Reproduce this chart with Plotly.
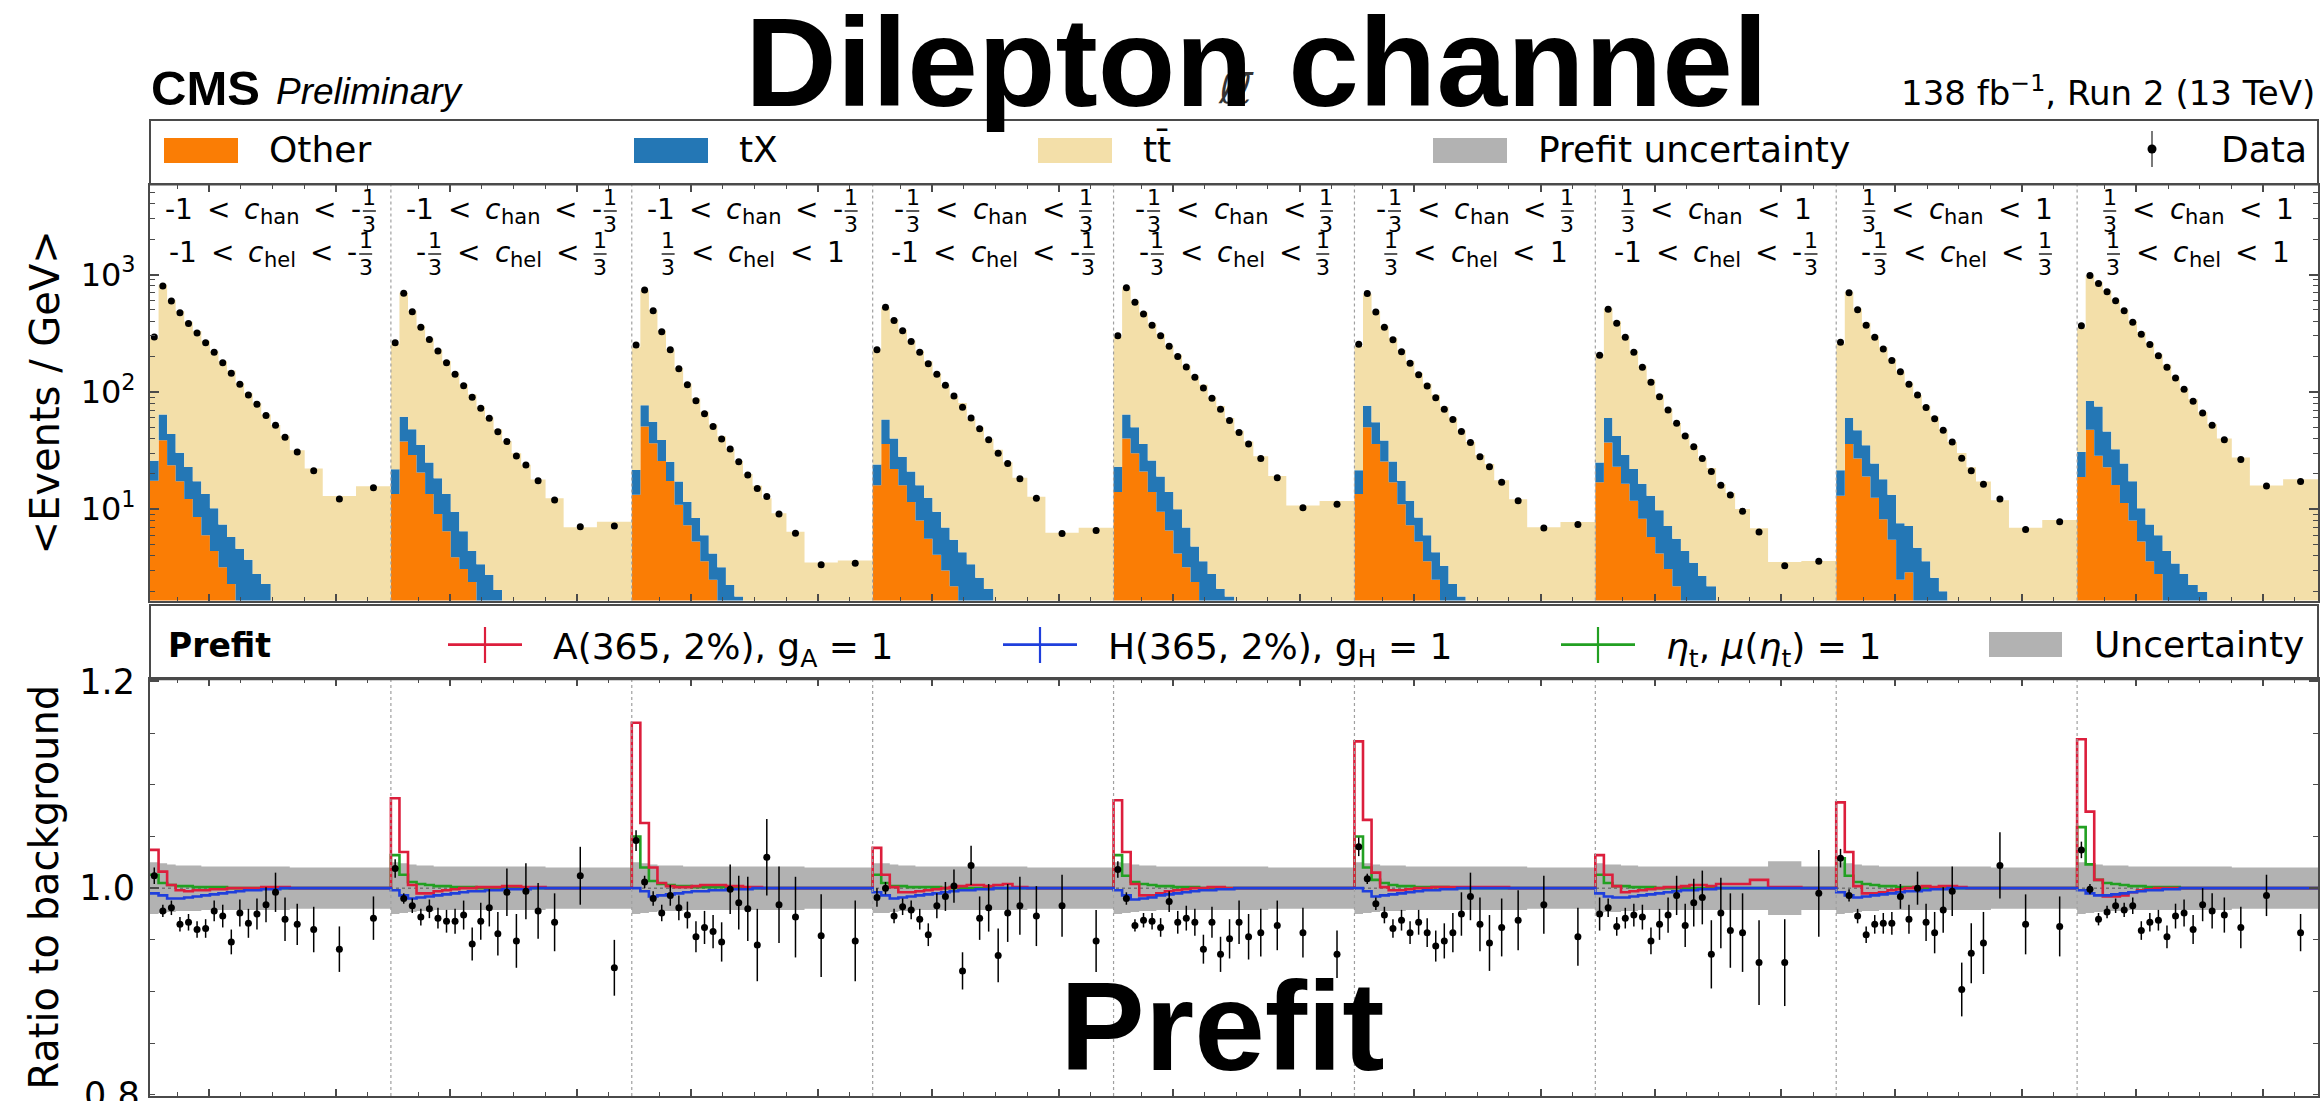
import plotly.graph_objects as go

# ---------------------------------------------------------------- canvas
W, H = 2320, 1101
ML, MR, MT, MB = 150, 2, 118, 5
PW, PH = W - ML - MR, H - MT - MB


def px(x):
    return (x - ML) / PW


def py(y):
    return (H - MB - y) / PH


# ---------------------------------------------------------------- data
MTT_EDGES = [320, 347, 374, 401, 428, 455, 482, 509, 536, 563, 590, 617, 644,
             671, 701, 731, 761, 808, 865, 970, 1080]

CHAN_RANGES = [("-1", "-1/3"), ("-1", "-1/3"), ("-1", "-1/3"),
               ("-1/3", "1/3"), ("-1/3", "1/3"), ("-1/3", "1/3"),
               ("1/3", "1"), ("1/3", "1"), ("1/3", "1")]
CHEL_RANGES = [("-1", "-1/3"), ("-1/3", "1/3"), ("1/3", "1"),
               ("-1", "-1/3"), ("-1/3", "1/3"), ("1/3", "1"),
               ("-1", "-1/3"), ("-1/3", "1/3"), ("1/3", "1")]

# observed events / GeV
obs_events = [
    [293, 800, 595, 472, 383, 317, 262, 218, 177, 144, 116, 94, 78.5, 63, 52, 41, 30.7, 21.3, 12.2, 15.2],
    [262, 692, 482, 355, 280, 223, 177, 141, 113, 90, 72.5, 59.6, 45.8, 37.7, 28.4, 23.8, 17.5, 12.0, 7.1, 7.2],
    [251, 738, 492, 326, 228, 157, 115, 84, 65, 50.6, 39.7, 32.6, 25.4, 19.6, 15.0, 12.8, 9.1, 6.25, 3.36, 3.47],
    [228, 525, 405, 332, 268, 217, 174, 141, 114, 92, 74, 60, 48.5, 39, 30, 24.5, 18.2, 12.4, 6.2, 6.6],
    [300, 770, 580, 460, 370, 300, 245, 200, 163, 133, 108, 88, 71, 57, 45, 36, 27, 18.5, 10.3, 11.0],
    [255, 690, 480, 355, 278, 220, 175, 140, 112, 89, 71, 58, 46, 37, 28, 23, 17, 11.8, 6.9, 7.4],
    [205, 505, 385, 292, 218, 162, 121, 91, 70, 54, 42, 34, 27, 21, 16, 13.2, 9.6, 6.4, 3.3, 3.6],
    [265, 700, 500, 370, 292, 232, 185, 148, 116, 94, 73.6, 58.9, 47, 37.3, 27.2, 21.3, 16.3, 12.2, 6.7, 7.8],
    [365, 980, 838, 713, 598, 491, 392, 310, 253, 203, 162, 131, 105, 83, 66, 52, 39, 26.5, 15.8, 17.2],
]

# "Other" background events / GeV
other_events = [
    [17.5, 38.6, 23.7, 17.3, 12.2, 8.6, 6.0, 4.4, 3.2, 2.3, 1.5, 1.1, 0.8, 0.6, 0.4, 0.3, 0.2, 0.15, 0.1, 0.1],
    [13.5, 37.7, 29, 20.5, 13.5, 9.1, 6.5, 3.9, 3.1, 2.4, 1.5, 1.1, 0.8, 0.6, 0.4, 0.3, 0.2, 0.15, 0.1, 0.1],
    [13.3, 50.6, 36.5, 25.8, 17.4, 10.9, 7.3, 5.3, 3.6, 2.5, 1.5, 1.0, 0.7, 0.5, 0.35, 0.25, 0.15, 0.1, 0.06, 0.06],
    [16, 36, 22, 16, 11.5, 8, 5.6, 4.1, 3.0, 2.2, 1.4, 1.0, 0.7, 0.5, 0.35, 0.25, 0.2, 0.12, 0.08, 0.08],
    [14, 40, 30, 21, 14, 9.5, 6.6, 4.2, 3.2, 2.4, 1.5, 1.1, 0.8, 0.6, 0.4, 0.3, 0.2, 0.15, 0.1, 0.1],
    [13.5, 50, 36, 25.5, 17, 11, 7.3, 5.3, 3.6, 2.5, 1.5, 1.0, 0.7, 0.5, 0.35, 0.25, 0.15, 0.1, 0.06, 0.06],
    [17, 37, 23, 16.5, 11.8, 8.3, 5.8, 4.2, 3.1, 2.2, 1.4, 1.0, 0.7, 0.5, 0.35, 0.25, 0.2, 0.12, 0.08, 0.08],
    [13, 36, 27, 19, 12.5, 8.2, 5.5, 2.5, 2.9, 1.5, 1.1, 0.8, 0.6, 0.45, 0.3, 0.2, 0.15, 0.1, 0.08, 0.08],
    [18.8, 47.6, 28.6, 22.8, 16.1, 11.3, 8.0, 5.3, 3.6, 2.8, 1.6, 1.1, 0.8, 0.6, 0.4, 0.3, 0.2, 0.15, 0.1, 0.1],
]

# tX background events / GeV
tx_events = [
    [8.4, 25.4, 20.1, 12.9, 10.7, 8.7, 7.5, 5.8, 4.2, 3.5, 3.1, 2.6, 2.0, 1.7, 1.1, 0.8, 0.6, 0.35, 0.2, 0.2],
    [8.4, 23.8, 19, 14.8, 11.5, 9.3, 7.0, 5.6, 3.4, 2.0, 1.9, 1.66, 1.25, 0.9, 0.6, 0.4, 0.3, 0.2, 0.15, 0.1],
    [8.3, 26.4, 19.2, 13.1, 8.0, 6.3, 4.3, 3.1, 2.4, 1.7, 1.7, 1.26, 1.1, 0.7, 0.5, 0.35, 0.2, 0.15, 0.08, 0.08],
    [8, 22, 18, 12, 9.5, 8, 6.9, 5.4, 4.0, 3.3, 2.9, 2.4, 1.9, 1.6, 1.0, 0.7, 0.5, 0.3, 0.2, 0.2],
    [9, 24, 20, 15, 12, 9.5, 7.4, 5.8, 3.8, 2.4, 2.1, 1.7, 1.3, 1.2, 0.7, 0.5, 0.35, 0.25, 0.15, 0.15],
    [8, 26, 19, 13, 8.5, 6.5, 4.5, 3.2, 2.4, 1.8, 1.8, 1.3, 1.1, 0.7, 0.5, 0.35, 0.2, 0.15, 0.08, 0.08],
    [8, 23, 19, 12.5, 10.2, 8.2, 7.2, 5.6, 4.1, 3.4, 3.0, 2.5, 2.0, 1.7, 1.1, 0.8, 0.5, 0.3, 0.2, 0.2],
    [8.5, 24, 20, 16, 12, 9.8, 7.8, 5.1, 4.3, 3.2, 2.5, 1.8, 1.4, 1.05, 0.7, 0.5, 0.35, 0.2, 0.15, 0.15],
    [11.9, 36, 46.6, 23.2, 16.3, 13.2, 9.3, 4.9, 3.8, 3.2, 2.8, 2.35, 2.0, 1.66, 1.57, 1.0, 0.6, 0.4, 0.25, 0.25],
]

# data / background
obs_ratio = [
    [1.012, 0.978, 0.981, 0.965, 0.967, 0.960, 0.961, 0.978, 0.973, 0.948, 0.976, 0.966, 0.975, 0.984, 0.996, 0.970, 0.965, 0.960, 0.941, 0.971],
    [1.019, 0.990, 0.983, 0.972, 0.980, 0.971, 0.968, 0.968, 0.974, 0.946, 0.968, 0.981, 0.956, 0.996, 0.949, 0.997, 0.978, 0.967, 1.012, 0.923],
    [1.046, 1.006, 0.990, 0.976, 0.993, 0.981, 0.974, 0.953, 0.962, 0.958, 0.948, 0.999, 0.986, 0.980, 0.945, 1.030, 0.984, 0.972, 0.954, 0.949],
    [0.991, 1.000, 0.973, 0.982, 0.979, 0.970, 0.955, 0.983, 0.992, 1.002, 0.920, 1.022, 0.971, 0.981, 0.935, 0.976, 0.983, 0.973, 0.983, 0.949],
    [1.018, 0.990, 0.964, 0.969, 0.968, 0.962, 0.987, 0.967, 0.971, 0.967, 0.941, 0.967, 0.936, 0.951, 0.967, 0.953, 0.957, 0.964, 0.957, 0.936],
    [1.040, 1.009, 0.985, 0.974, 0.961, 0.969, 0.957, 0.967, 0.957, 0.944, 0.949, 0.957, 0.975, 0.992, 0.965, 0.947, 0.962, 0.969, 0.984, 0.953],
    [0.975, 0.981, 0.963, 0.971, 0.974, 0.972, 0.949, 0.965, 0.974, 0.993, 0.964, 0.986, 0.991, 0.936, 0.976, 0.959, 0.957, 0.928, 0.928, 0.995],
    [1.029, 0.993, 0.973, 0.955, 0.965, 0.966, 0.966, 0.992, 0.970, 1.000, 0.967, 0.957, 0.979, 0.997, 0.902, 0.937, 0.947, 1.022, 0.965, 0.963],
    [1.037, 0.999, 0.970, 0.977, 0.983, 0.979, 0.983, 0.959, 0.967, 0.969, 0.953, 0.973, 0.976, 0.960, 0.984, 0.978, 0.974, 0.962, 0.993, 0.957],
]

# statistical uncertainty on the data / background ratio
obs_ratio_err = [
    [0.008, 0.006, 0.007, 0.007, 0.008, 0.008, 0.009, 0.010, 0.011, 0.012, 0.013, 0.014, 0.015, 0.017, 0.019, 0.021, 0.020, 0.022, 0.022, 0.021],
    [0.009, 0.005, 0.007, 0.008, 0.009, 0.010, 0.011, 0.012, 0.014, 0.016, 0.018, 0.018, 0.021, 0.023, 0.026, 0.027, 0.027, 0.028, 0.028, 0.027],
    [0.010, 0.006, 0.007, 0.008, 0.010, 0.012, 0.013, 0.015, 0.016, 0.016, 0.019, 0.024, 0.026, 0.031, 0.035, 0.037, 0.037, 0.039, 0.040, 0.039],
    [0.009, 0.006, 0.007, 0.008, 0.009, 0.010, 0.011, 0.012, 0.014, 0.016, 0.018, 0.019, 0.021, 0.023, 0.026, 0.028, 0.028, 0.029, 0.030, 0.030],
    [0.008, 0.006, 0.006, 0.007, 0.008, 0.009, 0.010, 0.011, 0.012, 0.013, 0.014, 0.015, 0.017, 0.019, 0.021, 0.022, 0.023, 0.024, 0.024, 0.023],
    [0.009, 0.005, 0.006, 0.008, 0.009, 0.010, 0.011, 0.012, 0.014, 0.015, 0.017, 0.019, 0.021, 0.023, 0.026, 0.027, 0.028, 0.029, 0.028, 0.028],
    [0.016, 0.009, 0.009, 0.010, 0.011, 0.012, 0.013, 0.015, 0.017, 0.019, 0.021, 0.023, 0.026, 0.033, 0.034, 0.036, 0.038, 0.041, 0.042, 0.042],
    [0.009, 0.006, 0.007, 0.008, 0.009, 0.010, 0.011, 0.012, 0.014, 0.016, 0.018, 0.020, 0.022, 0.024, 0.026, 0.029, 0.030, 0.032, 0.029, 0.029],
    [0.008, 0.005, 0.006, 0.006, 0.007, 0.007, 0.008, 0.009, 0.009, 0.010, 0.011, 0.012, 0.013, 0.014, 0.016, 0.017, 0.017, 0.020, 0.020, 0.018],
]

# prefit background uncertainty (half width of the band, relative)
bkg_unc = [
    [0.025, 0.024, 0.023, 0.022, 0.022, 0.022, 0.021, 0.021, 0.021, 0.021, 0.021, 0.021, 0.021, 0.021, 0.021, 0.021, 0.020, 0.020, 0.020, 0.020],
    [0.025, 0.024, 0.023, 0.022, 0.022, 0.021, 0.021, 0.021, 0.021, 0.021, 0.021, 0.021, 0.021, 0.021, 0.021, 0.021, 0.021, 0.020, 0.020, 0.020],
    [0.025, 0.024, 0.023, 0.022, 0.022, 0.022, 0.021, 0.021, 0.021, 0.021, 0.021, 0.021, 0.021, 0.021, 0.021, 0.021, 0.021, 0.021, 0.020, 0.020],
    [0.024, 0.024, 0.023, 0.022, 0.022, 0.021, 0.021, 0.021, 0.021, 0.021, 0.021, 0.021, 0.021, 0.021, 0.021, 0.021, 0.021, 0.020, 0.020, 0.020],
    [0.025, 0.024, 0.023, 0.022, 0.022, 0.021, 0.021, 0.021, 0.021, 0.021, 0.021, 0.021, 0.021, 0.021, 0.021, 0.021, 0.021, 0.020, 0.020, 0.020],
    [0.025, 0.024, 0.023, 0.022, 0.022, 0.022, 0.021, 0.021, 0.021, 0.021, 0.021, 0.021, 0.021, 0.021, 0.021, 0.021, 0.021, 0.021, 0.020, 0.020],
    [0.024, 0.023, 0.023, 0.022, 0.022, 0.021, 0.021, 0.021, 0.021, 0.021, 0.021, 0.021, 0.021, 0.021, 0.021, 0.021, 0.021, 0.021, 0.026, 0.021],
    [0.025, 0.024, 0.023, 0.022, 0.022, 0.021, 0.021, 0.021, 0.021, 0.021, 0.021, 0.021, 0.021, 0.021, 0.021, 0.021, 0.021, 0.020, 0.020, 0.020],
    [0.025, 0.024, 0.023, 0.022, 0.022, 0.022, 0.021, 0.021, 0.021, 0.021, 0.021, 0.021, 0.021, 0.021, 0.021, 0.021, 0.021, 0.020, 0.020, 0.020],
]

# signal + background over background
a_ratio = [
    [1.037, 1.016, 1.003, 0.998, 0.997, 0.998, 0.998, 0.999, 0.999, 1.000, 1.000, 1.000, 1.000, 1.001, 1.001, 1.001, 1.000, 1.000, 1.000, 1.000],
    [1.087, 1.035, 1.003, 0.995, 0.995, 0.997, 0.998, 0.999, 1.000, 1.000, 1.001, 1.001, 1.001, 1.002, 1.002, 1.001, 1.001, 1.000, 1.000, 1.000],
    [1.160, 1.063, 1.020, 1.005, 1.002, 1.001, 1.001, 1.002, 1.003, 1.003, 1.003, 1.002, 1.002, 1.001, 1.001, 1.000, 1.000, 1.000, 1.000, 1.000],
    [1.039, 1.013, 1.001, 0.996, 0.996, 0.997, 0.998, 0.999, 1.000, 1.001, 1.002, 1.003, 1.003, 1.002, 1.003, 1.004, 1.001, 1.000, 1.000, 1.000],
    [1.085, 1.035, 1.004, 0.993, 0.993, 0.995, 0.997, 0.998, 0.999, 1.000, 1.000, 1.001, 1.001, 1.000, 1.000, 1.000, 1.000, 1.000, 1.000, 1.000],
    [1.142, 1.066, 1.015, 1.001, 0.998, 0.998, 0.999, 1.000, 1.000, 1.001, 1.001, 1.001, 1.001, 1.001, 1.001, 1.001, 1.001, 1.000, 1.000, 1.000],
    [1.032, 1.013, 1.002, 0.996, 0.997, 0.998, 0.999, 1.000, 1.001, 1.001, 1.002, 1.003, 1.003, 1.002, 1.004, 1.004, 1.004, 1.008, 1.001, 1.000],
    [1.083, 1.035, 1.002, 0.995, 0.995, 0.996, 0.998, 0.999, 1.000, 1.001, 1.002, 1.001, 1.002, 1.002, 1.001, 1.000, 1.000, 1.000, 1.000, 1.000],
    [1.144, 1.074, 1.008, 0.992, 0.992, 0.993, 0.996, 0.998, 0.999, 1.000, 1.000, 1.000, 1.000, 1.000, 1.000, 1.000, 1.000, 1.000, 1.000, 1.000],
]
h_ratio = [
    [0.995, 0.993, 0.990, 0.990, 0.991, 0.992, 0.993, 0.994, 0.995, 0.996, 0.997, 0.998, 0.998, 0.999, 0.999, 1.000, 1.000, 1.000, 1.000, 1.000],
    [0.998, 0.993, 0.990, 0.991, 0.992, 0.993, 0.994, 0.995, 0.996, 0.997, 0.997, 0.998, 0.998, 0.999, 0.999, 0.999, 1.000, 1.000, 1.000, 1.000],
    [1.000, 0.997, 0.992, 0.993, 0.994, 0.995, 0.996, 0.997, 0.997, 0.998, 0.998, 0.999, 0.999, 0.999, 1.000, 1.000, 1.000, 1.000, 1.000, 1.000],
    [0.996, 0.993, 0.990, 0.991, 0.992, 0.993, 0.994, 0.995, 0.996, 0.997, 0.998, 0.998, 0.999, 0.999, 1.000, 1.000, 1.000, 1.000, 1.000, 1.000],
    [0.998, 0.993, 0.989, 0.990, 0.991, 0.993, 0.994, 0.995, 0.996, 0.997, 0.998, 0.998, 0.999, 0.999, 1.000, 1.000, 1.000, 1.000, 1.000, 1.000],
    [1.000, 0.997, 0.992, 0.993, 0.994, 0.995, 0.996, 0.997, 0.998, 0.998, 0.999, 0.999, 1.000, 1.000, 1.000, 1.000, 1.000, 1.000, 1.000, 1.000],
    [0.995, 0.992, 0.991, 0.991, 0.992, 0.993, 0.994, 0.995, 0.996, 0.997, 0.998, 0.998, 0.999, 0.999, 1.000, 1.000, 1.000, 1.000, 1.000, 1.000],
    [0.996, 0.993, 0.991, 0.992, 0.993, 0.994, 0.995, 0.996, 0.997, 0.997, 0.998, 0.999, 0.999, 1.000, 1.000, 1.000, 1.000, 1.000, 1.000, 1.000],
    [0.998, 0.995, 0.993, 0.993, 0.994, 0.995, 0.996, 0.997, 0.998, 0.998, 0.999, 0.999, 1.000, 1.000, 1.000, 1.000, 1.000, 1.000, 1.000, 1.000],
]
eta_ratio = [
    [1.013, 1.005, 1.003, 1.002, 1.002, 1.001, 1.001, 1.001, 1.001, 1.000, 1.000, 1.000, 1.000, 1.000, 1.000, 1.000, 1.000, 1.000, 1.000, 1.000],
    [1.032, 1.013, 1.006, 1.004, 1.003, 1.002, 1.002, 1.001, 1.001, 1.001, 1.000, 1.000, 1.000, 1.000, 1.000, 1.000, 1.000, 1.000, 1.000, 1.000],
    [1.050, 1.020, 1.007, 1.004, 1.003, 1.002, 1.002, 1.001, 1.001, 1.001, 1.001, 1.000, 1.000, 1.000, 1.000, 1.000, 1.000, 1.000, 1.000, 1.000],
    [1.013, 1.005, 1.002, 1.002, 1.001, 1.001, 1.001, 1.001, 1.000, 1.000, 1.000, 1.000, 1.000, 1.000, 1.000, 1.000, 1.000, 1.000, 1.000, 1.000],
    [1.032, 1.012, 1.006, 1.004, 1.003, 1.002, 1.002, 1.001, 1.001, 1.001, 1.000, 1.000, 1.000, 1.000, 1.000, 1.000, 1.000, 1.000, 1.000, 1.000],
    [1.050, 1.020, 1.008, 1.005, 1.003, 1.002, 1.002, 1.001, 1.001, 1.001, 1.001, 1.000, 1.000, 1.000, 1.000, 1.000, 1.000, 1.000, 1.000, 1.000],
    [1.013, 1.005, 1.002, 1.002, 1.001, 1.001, 1.001, 1.000, 1.000, 1.000, 1.000, 1.000, 1.000, 1.000, 1.000, 1.000, 1.000, 1.000, 1.000, 1.000],
    [1.029, 1.012, 1.006, 1.004, 1.003, 1.002, 1.002, 1.001, 1.001, 1.001, 1.000, 1.000, 1.000, 1.000, 1.000, 1.000, 1.000, 1.000, 1.000, 1.000],
    [1.059, 1.023, 1.008, 1.005, 1.004, 1.003, 1.002, 1.002, 1.001, 1.001, 1.001, 1.001, 1.000, 1.000, 1.000, 1.000, 1.000, 1.000, 1.000, 1.000],
]

# ---------------------------------------------------------------- style
C_OTHER = "#fa7d05"
C_TX = "#2477b5"
C_TT = "#f3dfa9"
C_UNC = "#b2b2b2"
C_A = "#dc1e3c"
C_H = "#1f3fdc"
C_ETA = "#22a022"
C_FRAME = "#4a4a4a"

N_PANELS = len(obs_events)
SPAN = MTT_EDGES[-1] - MTT_EDGES[0]
X_MAX = N_PANELS * SPAN
MAJOR_OFFSETS = [187, 587]
MINOR_OFFSETS = [87, 287, 387, 487, 687]

Y_UP_TOP, Y_UP_BOT = 184.5, 600.5
Y_RLEG_TOP = 605.0
Y_RA_TOP, Y_RA_BOT = 679.3, 1096.0
Y_LEG_TOP = 120.0
RATIO_RANGE = [0.799, 1.202]


def flat(nested):
    return [v for panel in nested for v in panel]


x_edges = [p * SPAN + (e - MTT_EDGES[0]) for p in range(N_PANELS) for e in MTT_EDGES[:-1]]
x_edges.append(X_MAX)
x_centers = [p * SPAN + 0.5 * (lo + hi) - MTT_EDGES[0]
             for p in range(N_PANELS) for lo, hi in zip(MTT_EDGES[:-1], MTT_EDGES[1:])]


def step(vals):
    vals = list(vals)
    return x_edges, vals + [vals[-1]]


obs = flat(obs_events)
rat = flat(obs_ratio)
other = flat(other_events)
tx = flat(tx_events)
bkg_total = [o / r for o, r in zip(obs, rat)]
stack_other = other
stack_tx = [a + b for a, b in zip(other, tx)]

fig = go.Figure()

# ---------------------------------------------------------------- upper panel: stacked backgrounds
fig.add_trace(go.Scatter(x=[0, X_MAX], y=[0.01, 0.01], mode="lines", line=dict(width=0),
                         hoverinfo="skip", showlegend=False, xaxis="x", yaxis="y"))
for cum, col in [(stack_other, C_OTHER), (stack_tx, C_TX), (bkg_total, C_TT)]:
    sx, sy = step(cum)
    fig.add_trace(go.Scatter(x=sx, y=sy, mode="lines", line=dict(width=0, shape="hv", color=col),
                             fill="tonexty", fillcolor=col, hoverinfo="skip", showlegend=False,
                             xaxis="x", yaxis="y"))
fig.add_trace(go.Scatter(x=x_centers, y=obs, mode="markers",
                         marker=dict(color="black", size=7), showlegend=False,
                         xaxis="x", yaxis="y"))

# ---------------------------------------------------------------- ratio panel
unc = flat(bkg_unc)
sx, lo_y = step([1 - u for u in unc])
_, hi_y = step([1 + u for u in unc])
fig.add_trace(go.Scatter(x=sx, y=lo_y, mode="lines", line=dict(width=0, shape="hv"),
                         hoverinfo="skip", showlegend=False, xaxis="x2", yaxis="y2"))
fig.add_trace(go.Scatter(x=sx, y=hi_y, mode="lines", line=dict(width=0, shape="hv"),
                         fill="tonexty", fillcolor=C_UNC, hoverinfo="skip", showlegend=False,
                         xaxis="x2", yaxis="y2"))
fig.add_trace(go.Scatter(x=[0, X_MAX], y=[1, 1], mode="lines",
                         line=dict(color="#555555", width=1, dash="dot"),
                         hoverinfo="skip", showlegend=False, xaxis="x2", yaxis="y2"))
for series, col in [(eta_ratio, C_ETA), (a_ratio, C_A), (h_ratio, C_H)]:
    sx, sy = step(flat(series))
    fig.add_trace(go.Scatter(x=sx, y=sy, mode="lines", line=dict(color=col, width=2.6, shape="hv"),
                             hoverinfo="skip", showlegend=False, xaxis="x2", yaxis="y2"))
fig.add_trace(go.Scatter(x=x_centers, y=rat, mode="markers",
                         marker=dict(color="black", size=7),
                         error_y=dict(type="data", array=flat(obs_ratio_err), color="black",
                                      thickness=1.5, width=0),
                         showlegend=False, xaxis="x2", yaxis="y2"))

# ---------------------------------------------------------------- axes
major_x = [p * SPAN + o for p in range(N_PANELS) for o in MAJOR_OFFSETS]
minor_x = [p * SPAN + o for p in range(N_PANELS) for o in MINOR_OFFSETS]

xcommon = dict(range=[0, X_MAX], showgrid=False, zeroline=False, showticklabels=False,
               showline=True, linecolor=C_FRAME, linewidth=2, mirror="allticks",
               ticks="inside", ticklen=7, tickwidth=1.5, tickcolor=C_FRAME,
               tickmode="array", tickvals=major_x, automargin=False,
               minor=dict(tickmode="array", tickvals=minor_x, ticks="inside", ticklen=4,
                          tickwidth=1.2, tickcolor=C_FRAME, showgrid=False))

log_minor = [m * 10 ** k for k in range(0, 4) for m in range(2, 10) if m * 10 ** k < 6000]

fig.update_layout(
    width=W, height=H,
    margin=dict(l=ML, r=MR, t=MT, b=MB, pad=0, autoexpand=False),
    paper_bgcolor="white", plot_bgcolor="white",
    showlegend=False,
    xaxis=dict(domain=[0, 1], anchor="y", **xcommon),
    xaxis2=dict(domain=[0, 1], anchor="y2", matches="x", **xcommon),
    yaxis=dict(domain=[py(Y_UP_BOT), py(Y_UP_TOP)], anchor="x", type="log",
               range=[0.222, 3.767], showgrid=False, zeroline=False, automargin=False,
               showline=True, linecolor=C_FRAME, linewidth=2, mirror="allticks",
               ticks="inside", ticklen=9, tickwidth=1.5, tickcolor=C_FRAME,
               tickmode="array", tickvals=[10, 100, 1000],
               ticktext=["10<sup>1</sup>", "10<sup>2</sup>", "10<sup>3</sup>"],
               tickfont=dict(family="DejaVu Sans", size=32, color="black"),
               ticklabelstandoff=6,
               minor=dict(tickmode="array", tickvals=log_minor, ticks="inside", ticklen=5,
                          tickwidth=1.2, tickcolor=C_FRAME, showgrid=False)),
    yaxis2=dict(domain=[0, py(Y_RA_TOP)], anchor="x2", range=RATIO_RANGE,
                showgrid=False, zeroline=False, automargin=False,
                showline=True, linecolor=C_FRAME, linewidth=2, mirror="allticks",
                ticks="inside", ticklen=9, tickwidth=1.5, tickcolor=C_FRAME,
                tickmode="array", tickvals=[1.0, 1.2], ticktext=["1.0", "1.2"],
                tickfont=dict(family="DejaVu Sans", size=35, color="black"),
                ticklabelstandoff=6,
                minor=dict(tickmode="array", tickvals=[0.8, 0.85, 0.9, 0.95, 1.05, 1.1, 1.15],
                           ticks="inside", ticklen=5, tickwidth=1.2, tickcolor=C_FRAME,
                           showgrid=False)),
)

# ---------------------------------------------------------------- helpers for text / shapes
METRICS = {"DejaVu Sans": (0.928, 0.236), "Liberation Sans": (0.905, 0.212)}
shapes = []


def text(x, base, s, size, family="DejaVu Sans", anchor="left", color="black", mode="bottom", **kw):
    asc, desc = METRICS[family]
    if mode == "bottom":
        y, ya = base + desc * size, "bottom"
    else:
        y, ya = base - asc * size, "top"
    fig.add_annotation(x=px(x), y=py(y), xref="paper", yref="paper", text=s, showarrow=False,
                       xanchor=anchor, yanchor=ya, borderpad=0,
                       font=dict(family=family, size=size, color=color), **kw)


def line_px(x0, y0, x1, y1, color, width, dash=None):
    d = dict(type="line", xref="paper", yref="paper", x0=px(x0), y0=py(y0), x1=px(x1), y1=py(y1),
             line=dict(color=color, width=width))
    if dash:
        d["line"]["dash"] = dash
    shapes.append(d)


def rect_px(x0, y0, x1, y1, fill=None, line_color=None, width=0):
    shapes.append(dict(type="rect", xref="paper", yref="paper",
                       x0=px(x0), y0=py(y1), x1=px(x1), y1=py(y0),
                       fillcolor=fill if fill else "rgba(0,0,0,0)",
                       line=dict(color=line_color if line_color else "rgba(0,0,0,0)", width=width)))


# lowest ratio tick label, sitting on the bottom edge of the canvas
fig.add_annotation(x=0, y=RATIO_RANGE[0] + 0.001, xref="paper", yref="y2", text="0.8",
                   showarrow=False, xanchor="right", yanchor="middle", xshift=-8,
                   font=dict(family="DejaVu Sans", size=35, color="black"))

# panel separators
for p in range(1, N_PANELS):
    for y0, y1 in [(Y_UP_TOP, Y_UP_BOT), (Y_RA_TOP, Y_RA_BOT)]:
        shapes.append(dict(type="line", xref="x", yref="paper", x0=p * SPAN, x1=p * SPAN,
                           y0=py(y1), y1=py(y0), layer="above",
                           line=dict(color="#a0a0a0", width=1.2, dash="dot")))

# legend boxes
rect_px(ML, Y_LEG_TOP, W - MR, Y_UP_TOP, line_color=C_FRAME, width=2)
rect_px(ML, Y_RLEG_TOP, W - MR, Y_RA_TOP, line_color=C_FRAME, width=2)

# ---------------------------------------------------------------- upper legend
LEG_BASE = 163
for x0, col, label in [(164, C_OTHER, "Other"), (634, C_TX, "tX"),
                       (1038, C_TT, "tt\u0304"), (1433, C_UNC, "Prefit uncertainty")]:
    rect_px(x0, 138, x0 + 74, 163, fill=col)
    text(x0 + 104, LEG_BASE, label, 36)
line_px(2152, 131, 2152, 167, "#7a7a7a", 2)
shapes.append(dict(type="circle", xref="paper", yref="paper", x0=px(2147.5), x1=px(2156.5),
                   y0=py(153.5), y1=py(144.5), fillcolor="black", line=dict(width=0)))
text(2220, LEG_BASE, "Data", 36)

# ---------------------------------------------------------------- ratio legend
RLEG_BASE = 658
text(167, RLEG_BASE, "<b>Prefit</b>", 33)
for xc, col, label in [(485, C_A, "A(365, 2%), g<sub>A</sub> = 1"),
                       (1040, C_H, "H(365, 2%), g<sub>H</sub> = 1"),
                       (1598, C_ETA, "<i>\u03b7</i><sub>t</sub>, <i>\u03bc</i>(<i>\u03b7</i><sub>t</sub>) = 1")]:
    line_px(xc - 37, 644.6, xc + 37, 644.6, col, 2.6)
    line_px(xc, 627, xc, 663, col, 2.2)
    text(xc + 67, RLEG_BASE, label, 36, mode="top")
rect_px(1989, 632, 2062, 657, fill=C_UNC)
text(2093, RLEG_BASE, "Uncertainty", 36)

# ---------------------------------------------------------------- panel labels (mathtext-like layout)
FS, FSS, FSF, GAP = 28, 21, 22, 14
EM = {"-": 0.361, "1": 0.636, "3": 0.636, "<": 0.838, "c": 0.55,
      "h": 0.634, "a": 0.613, "n": 0.634, "e": 0.615, "l": 0.278}


def tw(s, size):
    return sum(EM[ch] for ch in s) * size


def bound_tokens(b):
    if b == "-1/3":
        return [("txt", "-", tw("-", FS)), ("gap", "", 2), ("frac", "", tw("1", FSF) + 1)]
    if b == "1/3":
        return [("frac", "", tw("1", FSF) + 1)]
    return [("txt", b, tw(b, FS))]


def panel_line(cx, base, lo, var, hi):
    toks = bound_tokens(lo) + [("gap", "", GAP), ("txt", "&lt;", tw("<", FS)), ("gap", "", GAP),
                               ("ital", "c", tw("c", FS)), ("sub", var, tw(var, FSS)),
                               ("gap", "", GAP), ("txt", "&lt;", tw("<", FS)), ("gap", "", GAP)] \
        + bound_tokens(hi)
    total = sum(t[2] for t in toks)
    x = cx - total / 2
    for kind, s, wdt in toks:
        if kind == "txt":
            text(x, base, s, FS)
        elif kind == "ital":
            text(x, base, "<i>" + s + "</i>", FS)
        elif kind == "sub":
            text(x, base + 5, s, FSS)
        elif kind == "frac":
            fc = x + wdt / 2
            text(fc, base - 15, "1", FSF, anchor="center")
            text(fc, base + 12, "3", FSF, anchor="center")
            line_px(fc - 6.5, base - 9.5, fc + 6.5, base - 9.5, "black", 1.3)
        x += wdt


panel_w = PW / N_PANELS
for p in range(N_PANELS):
    cx = ML + (p + 0.5) * panel_w
    panel_line(cx, 220.5, CHAN_RANGES[p][0], "han", CHAN_RANGES[p][1])
    panel_line(cx, 263.5, CHEL_RANGES[p][0], "hel", CHEL_RANGES[p][1])

# ---------------------------------------------------------------- axis titles
fig.add_annotation(x=px(44), y=py(0.5 * (Y_UP_TOP + Y_UP_BOT)), xref="paper", yref="paper",
                   text="&lt;Events / GeV&gt;", showarrow=False, textangle=-90,
                   xanchor="center", yanchor="middle",
                   font=dict(family="DejaVu Sans", size=40, color="black"))
fig.add_annotation(x=px(44), y=py(0.5 * (Y_RA_TOP + Y_RA_BOT)), xref="paper", yref="paper",
                   text="Ratio to background", showarrow=False, textangle=-90,
                   xanchor="center", yanchor="middle",
                   font=dict(family="DejaVu Sans", size=40, color="black"))

# ---------------------------------------------------------------- header texts
text(150, 105.5, "<b>CMS</b>", 49, family="Liberation Sans")
text(275, 105.5, "<i>Preliminary</i>", 37, family="Liberation Sans")
text(2316, 106, "138 fb<sup>\u22121</sup>, Run 2 (13 TeV)", 34, anchor="right")
text(1236, 104, "<i>\u2113\u2113\u0304</i>", 40, color="#333333", anchor="center")
text(1256, 107, "<b>Dilepton channel</b>", 127, family="Liberation Sans", anchor="center")
text(1222, 1071, "<b>Prefit</b>", 127, family="Liberation Sans", anchor="center")

fig.update_layout(shapes=shapes)
fig.write_html("out.html")
